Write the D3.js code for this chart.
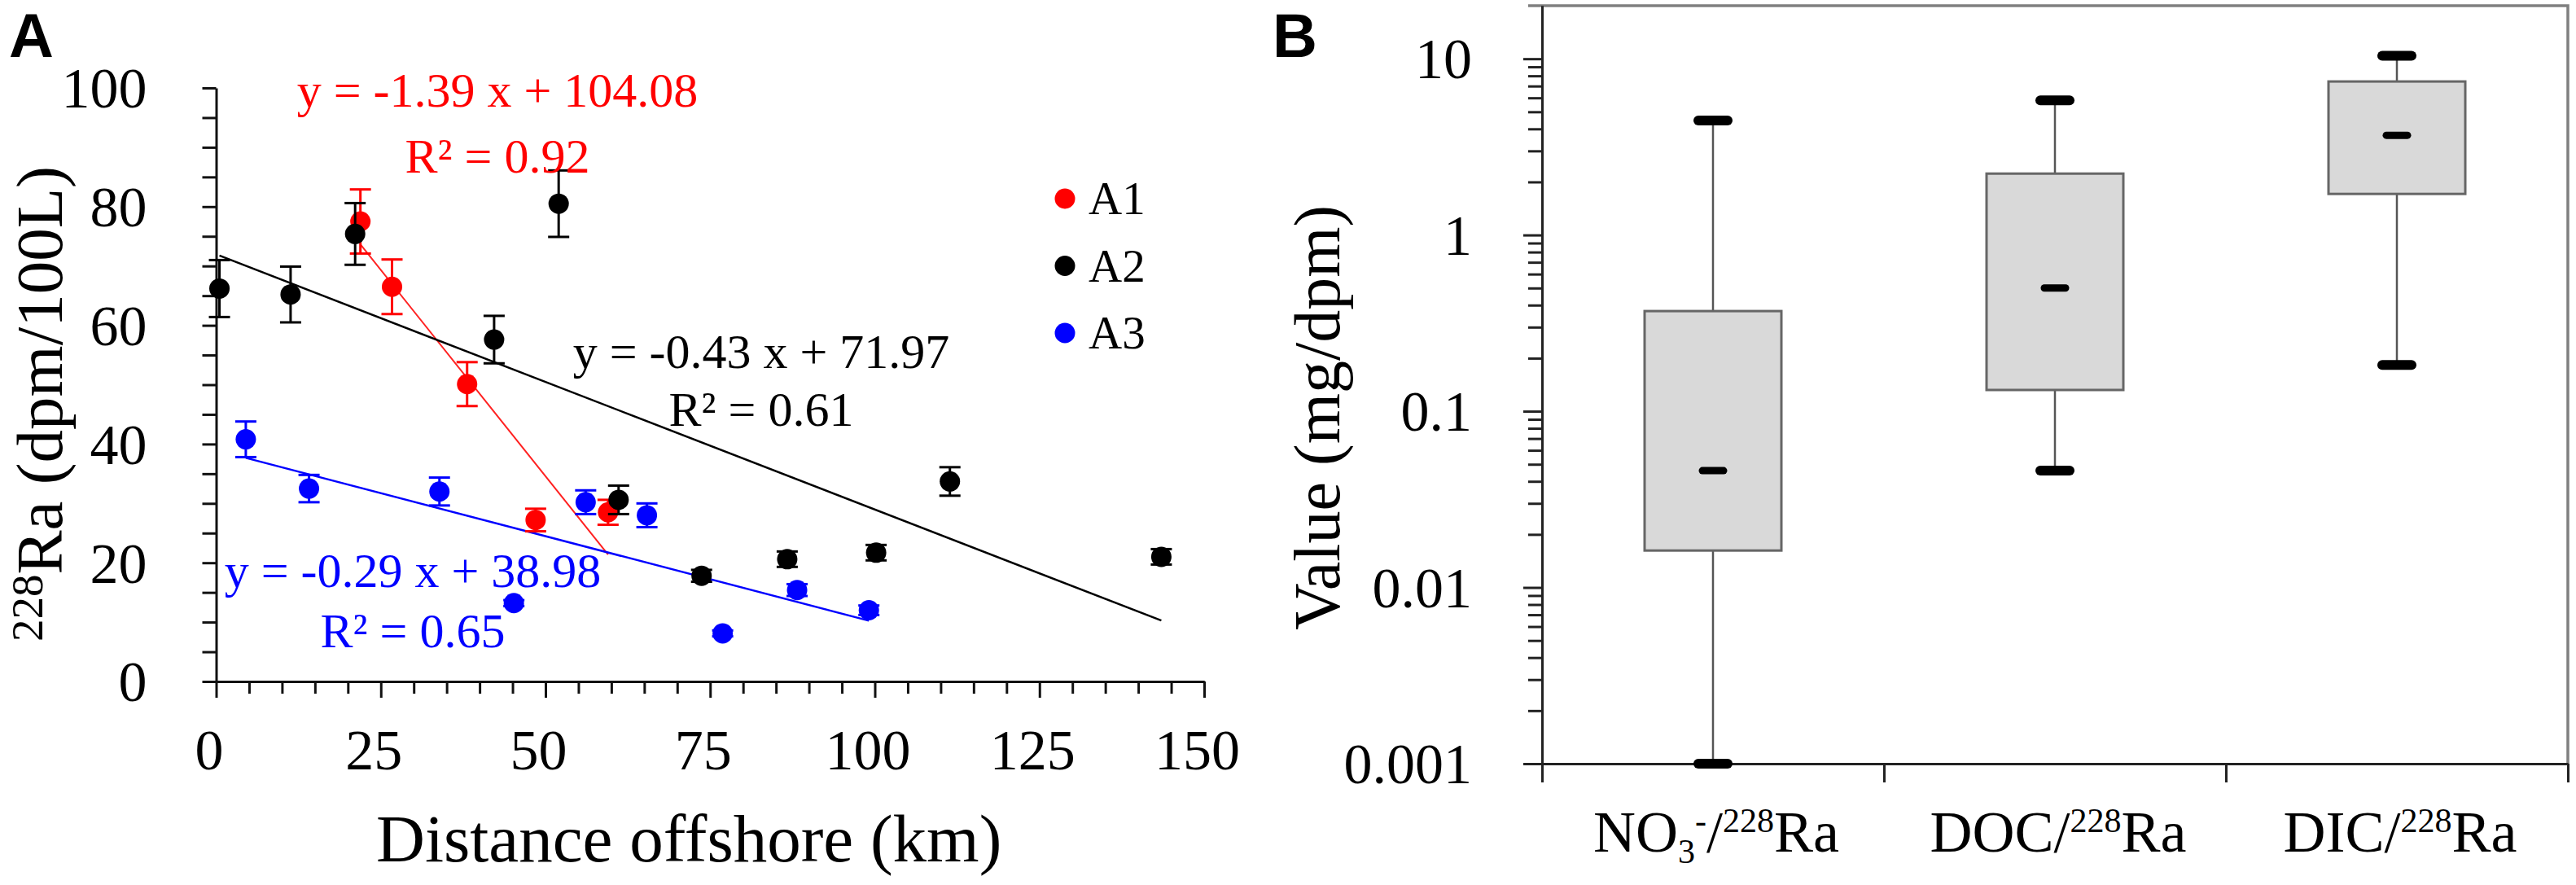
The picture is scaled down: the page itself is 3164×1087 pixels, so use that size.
<!DOCTYPE html>
<html><head><meta charset="utf-8">
<script src="https://cdn.jsdelivr.net/npm/d3@7"></script>
<style>body{margin:0;background:#fff;overflow:hidden;}</style>
</head><body><svg id="chart" width="3164" height="1087"></svg>
<script>
// ---------- Panel A data ----------
const a1X = [21.9, 26.7, 38.1, 48.5, 59.5];
const a1Y = [77.5, 66.5, 50.1, 27.2, 28.5];
const a1Err = [5.4, 4.6, 3.7, 1.9, 2.1];
const a2X = [0.5, 11.3, 21.1, 42.2, 52.0, 61.1, 73.7, 86.7, 100.2, 111.4, 143.5];
const a2Y = [66.2, 65.2, 75.4, 57.6, 80.5, 30.6, 17.8, 20.6, 21.7, 33.7, 21.0];
const a2Err = [4.8, 4.7, 5.2, 4.0, 5.6, 2.4, 1.0, 1.3, 1.3, 2.4, 1.3];
const a3X = [4.5, 14.1, 33.9, 45.2, 56.1, 65.4, 76.9, 88.2, 99.1];
const a3Y = [40.8, 32.5, 32.0, 13.2, 30.2, 28.0, 8.1, 15.4, 12.0];
const a3Err = [3.0, 2.3, 2.35, 0.5, 2.0, 2.0, 0.5, 1.0, 0.8];
const seriesNames = ["A1", "A2", "A3"];
const fitSlopes = [-1.39, -0.43, -0.29];
const fitIntercepts = [104.08, 71.97, 38.98];
const fitR2 = [0.92, 0.61, 0.65];
const xTicksA = [0, 25, 50, 75, 100, 125, 150];
const yTicksA = [0, 20, 40, 60, 80, 100];

// ---------- Panel B data ----------
const boxCategories = ["NO3-/228Ra", "DOC/228Ra", "DIC/228Ra"];
const boxWhiskerLow = [0.001, 0.046, 0.183];
const boxQ1 = [0.0162, 0.132, 1.71];
const boxMedian = [0.046, 0.50, 3.68];
const boxQ3 = [0.37, 2.23, 7.43];
const boxWhiskerHigh = [4.46, 5.81, 10.4];
const yTicksB = [0.001, 0.01, 0.1, 1, 10];

// ---------- styling / layout ----------
const serif = '"Liberation Serif","Times New Roman",serif';
const sans = '"Liberation Sans",Arial,sans-serif';
const colors = ["#ff0000", "#000000", "#0000ff"];
const eqPos = [{x: 611, y1: 131, y2: 212}, {x: 935, y1: 452, y2: 523}, {x: 507, y1: 721, y2: 795}];

const svg = d3.select("#chart");
svg.append("rect").attr("width", 3164).attr("height", 1087).attr("fill", "#fff");

function richText(sel, parts, baseSize) {
  let cur = 0;
  parts.forEach(p => {
    const r = p.raise || 0;
    sel.append("tspan")
      .attr("dy", cur - r)
      .attr("font-size", p.size || baseSize)
      .text(p.t);
    cur = r;
  });
}

function styleAxis(g, color, width) {
  g.select(".domain").attr("stroke", color).attr("stroke-width", width);
  g.selectAll(".tick line").attr("stroke", color).attr("stroke-width", width);
  g.selectAll(".tick text").attr("font-family", serif).attr("fill", "#000");
}

// ================= PANEL A =================
const xA = d3.scaleLinear().domain([0, 150]).range([265.5, 1479]);
const yA = d3.scaleLinear().domain([0, 100]).range([837, 108]);
const gA = svg.append("g");

// y axis
const gyA = gA.append("g").attr("transform", `translate(${xA(0)},0)`)
  .call(d3.axisLeft(yA).tickValues(d3.range(0, 101, 5)).tickSize(17).tickSizeOuter(0).tickPadding(68)
    .tickFormat(d => yTicksA.includes(d) ? d : ""));
styleAxis(gyA, "#111", 3);
gyA.selectAll(".tick text").attr("font-size", 70).attr("dy", "0.34em");

// x axis minor
const gxAm = gA.append("g").attr("transform", `translate(0,${yA(0)})`)
  .call(d3.axisBottom(xA).tickValues(d3.range(0, 151, 5).filter(d => d % 25 !== 0)).tickSize(15).tickSizeOuter(0).tickFormat(""));
styleAxis(gxAm, "#111", 3);
const gxA = gA.append("g").attr("transform", `translate(0,${yA(0)})`)
  .call(d3.axisBottom(xA).tickValues(xTicksA).tickSize(20).tickSizeOuter(0));
styleAxis(gxA, "#111", 3);
gxA.selectAll(".tick text").attr("font-size", 70).attr("y", 108).attr("dy", 0).attr("dx", -9);

// axis titles
gA.append("text").attr("x", 462).attr("y", 1058).attr("font-family", serif).attr("font-size", 83)
  .attr("fill", "#000").text("Distance offshore (km)");
const ytA = gA.append("text").attr("transform", "translate(76,496) rotate(-90)")
  .attr("text-anchor", "middle").attr("font-family", serif).attr("fill", "#000");
richText(ytA, [{t: "228", size: 55, raise: 24}, {t: "Ra (dpm/100L)"}], 81);

// series
const seriesA = [
  {x: a1X, y: a1Y, e: a1Err},
  {x: a2X, y: a2Y, e: a2Err},
  {x: a3X, y: a3Y, e: a3Err}
];

// regression lines
seriesA.forEach((s, i) => {
  const [x0, x1] = d3.extent(s.x);
  const f = x => fitSlopes[i] * x + fitIntercepts[i];
  gA.append("line")
    .attr("x1", xA(x0)).attr("y1", yA(f(x0)))
    .attr("x2", xA(x1)).attr("y2", yA(f(x1)))
    .attr("stroke", i === 0 ? "#ff2020" : colors[i])
    .attr("stroke-width", i === 0 ? 2 : 2.5);
});

// draw order: A3, A1, A2 (black on top like original)
[2, 0, 1].forEach(i => {
  const s = seriesA[i];
  const g = gA.append("g");
  s.x.forEach((xv, j) => {
    const yv = s.y[j], ev = s.e[j];
    const px = xA(xv);
    g.append("line").attr("x1", px).attr("x2", px)
      .attr("y1", yA(yv - ev)).attr("y2", yA(yv + ev))
      .attr("stroke", colors[i]).attr("stroke-width", 3);
    [yv - ev, yv + ev].forEach(c => {
      g.append("line").attr("x1", px - 13).attr("x2", px + 13)
        .attr("y1", yA(c)).attr("y2", yA(c))
        .attr("stroke", colors[i]).attr("stroke-width", 3);
    });
    g.append("circle").attr("cx", px).attr("cy", yA(yv)).attr("r", 12.5).attr("fill", colors[i]);
  });
});

// equations
seriesA.forEach((s, i) => {
  const p = eqPos[i];
  const m = fitSlopes[i], b = fitIntercepts[i];
  const eq = `y = ${m.toFixed(2)} x ${b >= 0 ? "+" : "-"} ${Math.abs(b).toFixed(2)}`;
  gA.append("text").attr("x", p.x).attr("y", p.y1).attr("text-anchor", "middle")
    .attr("font-family", serif).attr("font-size", 60).attr("fill", colors[i]).text(eq);
  gA.append("text").attr("x", p.x).attr("y", p.y2).attr("text-anchor", "middle")
    .attr("font-family", serif).attr("font-size", 60).attr("fill", colors[i])
    .text(`R\u00B2 = ${fitR2[i].toFixed(2)}`);
});

// legend
seriesNames.forEach((n, i) => {
  const cy = 244 + 82.5 * i;
  gA.append("circle").attr("cx", 1308).attr("cy", cy).attr("r", 12.5).attr("fill", colors[i]);
  gA.append("text").attr("x", 1337).attr("y", cy + 19).attr("font-family", serif)
    .attr("font-size", 57).attr("fill", "#000").text(n);
});

// panel label
svg.append("text").attr("x", 11).attr("y", 70).attr("font-family", sans).attr("font-weight", "bold")
  .attr("font-size", 76).attr("fill", "#000").text("A");

// ================= PANEL B =================
const yB = d3.scaleLog().domain([0.001, 20]).range([938, 7]);
const xB = d3.scaleBand().domain(boxCategories).range([1894, 3154]).padding(0);
const xEdges = d3.scaleLinear().domain([0, boxCategories.length]).range([1894, 3154]);
const gB = svg.append("g");

// frame (top / right)
gB.append("path").attr("d", `M1877,7 H3154 V938`).attr("fill", "none")
  .attr("stroke", "#808080").attr("stroke-width", 3.5);

// minor y ticks
const minorB = [];
[0.001, 0.01, 0.1, 1, 10].forEach(dec => {
  for (let k = 2; k <= 9; k++) { const v = dec * k; if (v < 20) minorB.push(v); }
});
const gyBm = gB.append("g").attr("transform", `translate(1894,0)`)
  .call(d3.axisLeft(yB).tickValues(minorB).tickSize(17).tickSizeOuter(0).tickFormat(""));
styleAxis(gyBm, "#222", 3);
const gyB = gB.append("g").attr("transform", `translate(1894,0)`)
  .call(d3.axisLeft(yB).tickValues(yTicksB).tickSize(23).tickSizeOuter(0).tickPadding(63)
    .tickFormat(d => String(+d.toPrecision(3))));
styleAxis(gyB, "#222", 3);
gyB.selectAll(".tick text").attr("font-size", 70).attr("dy", "0.34em");

// bottom axis
const gxB = gB.append("g").attr("transform", `translate(0,${yB(0.001)})`)
  .call(d3.axisBottom(xEdges).tickValues(d3.range(0, boxCategories.length + 1)).tickSize(23).tickSizeOuter(0).tickFormat(""));
styleAxis(gxB, "#222", 3);

// boxes
const bw = xB.bandwidth() * 0.4;
boxCategories.forEach((c, i) => {
  const cx = xB(c) + xB.bandwidth() / 2;
  const g = gB.append("g");
  g.append("line").attr("x1", cx).attr("x2", cx).attr("y1", yB(boxWhiskerLow[i])).attr("y2", yB(boxQ1[i]))
    .attr("stroke", "#555").attr("stroke-width", 2.5);
  g.append("line").attr("x1", cx).attr("x2", cx).attr("y1", yB(boxQ3[i])).attr("y2", yB(boxWhiskerHigh[i]))
    .attr("stroke", "#555").attr("stroke-width", 2.5);
  g.append("rect").attr("x", cx - bw / 2).attr("width", bw)
    .attr("y", yB(boxQ3[i])).attr("height", yB(boxQ1[i]) - yB(boxQ3[i]))
    .attr("fill", "#d9d9d9").attr("stroke", "#666").attr("stroke-width", 3);
  [boxWhiskerLow[i], boxWhiskerHigh[i]].forEach(v => {
    g.append("line").attr("x1", cx - 18).attr("x2", cx + 18).attr("y1", yB(v)).attr("y2", yB(v))
      .attr("stroke", "#000").attr("stroke-width", 12).attr("stroke-linecap", "round");
  });
  g.append("line").attr("x1", cx - 13).attr("x2", cx + 13).attr("y1", yB(boxMedian[i])).attr("y2", yB(boxMedian[i]))
    .attr("stroke", "#000").attr("stroke-width", 9).attr("stroke-linecap", "round");

  // category label
  const t = gB.append("text").attr("x", cx + 4).attr("y", 1046).attr("text-anchor", "middle")
    .attr("font-family", serif).attr("fill", "#000");
  const [num, den] = c.split("/");
  const parts = [];
  if (num === "NO3-") {
    parts.push({t: "NO"}, {t: "3", size: 42, raise: -14}, {t: "-", size: 42, raise: 24});
  } else {
    parts.push({t: num});
  }
  parts.push({t: "/"}, {t: den.replace("Ra", ""), size: 42, raise: 24}, {t: "Ra"});
  richText(t, parts, 72);
});

// y title
gB.append("text").attr("transform", "translate(1645,513) rotate(-90)")
  .attr("text-anchor", "middle").attr("font-family", serif).attr("font-size", 80).attr("fill", "#000")
  .text("Value (mg/dpm)");

svg.append("text").attr("x", 1563).attr("y", 70).attr("font-family", sans).attr("font-weight", "bold")
  .attr("font-size", 76).attr("fill", "#000").text("B");
</script>
</body></html>
